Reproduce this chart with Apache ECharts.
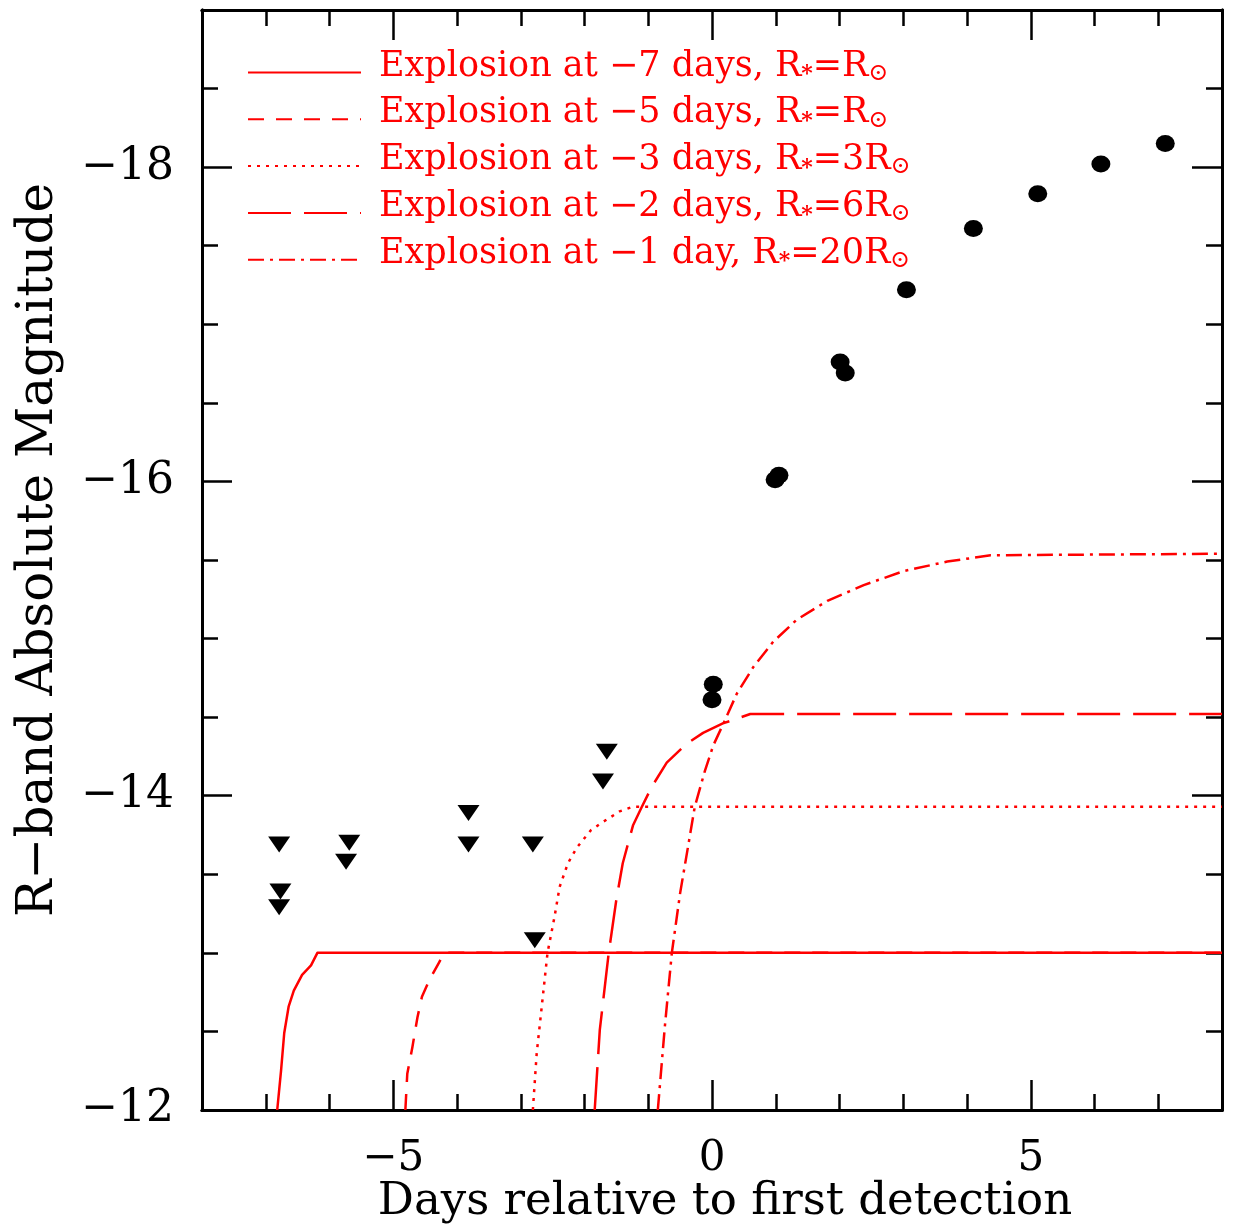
<!DOCTYPE html>
<html>
<head>
<meta charset="utf-8">
<script src="https://cdn.jsdelivr.net/npm/echarts@6/dist/echarts.min.js"></script>
<style>html,body{margin:0;padding:0;background:#fff}#chart{width:1234px;height:1227px}</style>
</head>
<body>
<div id="chart"></div>
<script>
// ---- tick values ----
const xMajorTicks = [-5, 0, 5];
const xMinorTicks = [-7, -6, -4, -3, -2, -1, 1, 2, 3, 4, 6, 7];
const yMajorTicks = [-18, -16, -14, -12];
const yMinorTicks = [-18.5, -17.5, -17, -16.5, -15.5, -15, -14.5, -13.5, -13, -12.5];

// ---- detections (filled circles) ----
const detDays = [0.02, 0.0, 0.99, 1.05, 2.01, 2.09, 3.05, 4.10, 5.11, 6.10, 7.11];
const detMag  = [-14.71, -14.61, -16.01, -16.04, -16.76, -16.69, -17.22, -17.61, -17.83, -18.02, -18.15];

// ---- upper limits (down triangles) ----
const limDays = [-6.79, -6.77, -6.79, -5.69, -5.74, -3.82, -3.82, -2.81, -2.78, -1.65, -1.71];
const limMag  = [-13.69, -13.39, -13.29, -13.70, -13.58, -13.89, -13.69, -13.69, -13.08, -14.28, -14.09];

// ---- model light curves ----
const modelNames = [
  'Explosion at \u22127 days, R*=R\u2299',
  'Explosion at \u22125 days, R*=R\u2299',
  'Explosion at \u22123 days, R*=3R\u2299',
  'Explosion at \u22122 days, R*=6R\u2299',
  'Explosion at \u22121 day, R*=20R\u2299'
];
const m7Days = [-6.82, -6.76, -6.71, -6.64, -6.56, -6.43, -6.29, -6.19, 8];
const m7Mag  = [-12.0, -12.25, -12.49, -12.66, -12.76, -12.86, -12.92, -13.0, -13.0];
const m5Days = [-4.81, -4.78, -4.70, -4.62, -4.55, -4.43, -4.28, -4.20, 8];
const m5Mag  = [-12.0, -12.23, -12.40, -12.59, -12.72, -12.83, -12.94, -13.0, -13.0];
const m3Days = [-2.81, -2.75, -2.67, -2.58, -2.47, -2.39, -2.26, -2.12, -1.90, -1.76, -1.45, -1.24, 8];
const m3Mag  = [-12.0, -12.36, -12.66, -13.0, -13.23, -13.42, -13.57, -13.67, -13.78, -13.82, -13.90, -13.93, -13.93];
const m2Days = [-1.84, -1.76, -1.62, -1.50, -1.40, -1.24, -1.10, -0.94, -0.71, -0.40, -0.14, 0.17, 0.39, 0.60, 8];
const m2Mag  = [-12.0, -12.51, -13.0, -13.34, -13.57, -13.81, -13.93, -14.06, -14.21, -14.33, -14.40, -14.46, -14.49, -14.52, -14.52];
const m1Days = [-0.85, -0.74, -0.63, -0.50, -0.37, -0.27, -0.11, 0.02, 0.18, 0.39, 0.65, 0.96, 1.33, 1.81, 2.38, 3.01, 3.69, 4.37, 8];
const m1Mag  = [-12.0, -12.53, -13.0, -13.38, -13.69, -13.93, -14.16, -14.32, -14.46, -14.65, -14.82, -14.98, -15.12, -15.24, -15.34, -15.43, -15.49, -15.53, -15.54];

const FONT = 'DejaVu Serif';
const RED = '#ff0000';
const zip = (a, b) => a.map((v, i) => [v, b[i]]);
const minus = v => String(v).replace('-', '\u2212');

const models = [
  {name: modelNames[0], d: m7Days, m: m7Mag, type: 'solid'},
  {name: modelNames[1], d: m5Days, m: m5Mag, type: [16, 12]},
  {name: modelNames[2], d: m3Days, m: m3Mag, type: [3, 6]},
  {name: modelNames[3], d: m2Days, m: m2Mag, type: [43, 13]},
  {name: modelNames[4], d: m1Days, m: m1Mag, type: [16, 6, 3, 6]}
];

function xAxisDef(pos, ticks, len, withLabel) {
  return {
    type: 'value', position: pos, min: -8, max: 8,
    axisLine: {show: true, onZero: false, lineStyle: {color: '#000', width: 3}},
    axisTick: {show: true, inside: true, length: len, customValues: ticks, lineStyle: {color: '#000', width: 2.5}},
    axisLabel: withLabel ? {show: true, customValues: xMajorTicks, formatter: minus, fontFamily: FONT, fontSize: 42, color: '#000', margin: 28} : {show: false},
    splitLine: {show: false}
  };
}
function yAxisDef(pos, ticks, len, withLabel) {
  return {
    type: 'value', position: pos, min: -19, max: -12, inverse: true,
    axisLine: {show: true, onZero: false, lineStyle: {color: '#000', width: 3}},
    axisTick: {show: true, inside: true, length: len, customValues: ticks, lineStyle: {color: '#000', width: 2.5}},
    axisLabel: withLabel ? {show: true, customValues: yMajorTicks, formatter: minus, fontFamily: FONT, fontSize: 44, color: '#000', margin: 28} : {show: false},
    splitLine: {show: false}
  };
}

const xAxes = [
  Object.assign(xAxisDef('bottom', xMajorTicks, 30, true), {
    name: 'Days relative to first detection', nameLocation: 'middle', nameGap: 70, nameMoveOverlap: false,
    nameTextStyle: {fontFamily: FONT, fontSize: 45, color: '#000', padding: [0, 0, 0, 26]}
  }),
  xAxisDef('bottom', xMinorTicks, 16, false),
  xAxisDef('top', xMajorTicks, 30, false),
  xAxisDef('top', xMinorTicks, 16, false)
];
const yAxes = [
  Object.assign(yAxisDef('left', yMajorTicks, 30, true), {
    name: 'R\u2212band Absolute Magnitude', nameLocation: 'middle', nameGap: 138, nameRotate: 90, nameMoveOverlap: false,
    nameTextStyle: {fontFamily: FONT, fontSize: 50, color: '#000', padding: [0, 0, 0, 20]}
  }),
  yAxisDef('left', yMinorTicks, 16, false),
  yAxisDef('right', yMajorTicks, 30, false),
  yAxisDef('right', yMinorTicks, 16, false)
];

const series = models.map(md => ({
  name: md.name, type: 'line', xAxisIndex: 0, yAxisIndex: 0,
  data: zip(md.d, md.m), showSymbol: false, symbol: 'none', clip: true,
  lineStyle: {color: RED, width: 2.5, type: md.type, join: 'round'},
  itemStyle: {color: RED}, z: 3
}));
series.push({
  name: 'detections', type: 'scatter', xAxisIndex: 0, yAxisIndex: 0,
  data: zip(detDays, detMag), symbol: 'circle', symbolSize: [19, 17],
  itemStyle: {color: '#000', opacity: 1}, z: 4
});
series.push({
  name: 'upper limits', type: 'scatter', xAxisIndex: 0, yAxisIndex: 0,
  data: zip(limDays, limMag), symbol: 'triangle', symbolRotate: 180, symbolSize: [22, 16],
  itemStyle: {color: '#000', opacity: 1}, z: 4
});

const chart = echarts.init(document.getElementById('chart'), null, {renderer: 'canvas'});
chart.setOption({
  animation: false,
  backgroundColor: '#fff',
  grid: {left: 202, right: 12, top: 10, bottom: 117, containLabel: false, outerBoundsMode: 'none'},
  xAxis: xAxes,
  yAxis: yAxes,
  legend: {
    data: modelNames, orient: 'vertical', left: 242, top: 44,
    itemWidth: 113, itemHeight: 14, itemGap: 10.3,
    itemStyle: {opacity: 0},
    formatter: n => n.replace(/R\*=(\d*)R\u2299/, 'R{s|*}=$1R{o|\u2299}'),
    textStyle: {
      fontFamily: FONT, fontSize: 35, color: RED, padding: [0, 0, 12, 13],
      rich: {
        s: {fontFamily: FONT, fontSize: 22, fontWeight: 'bold', color: RED, verticalAlign: 'bottom', padding: [14, 0, 0, 0]},
        o: {fontFamily: FONT, fontSize: 24, color: RED, verticalAlign: 'bottom', padding: [14, 0, 0, 0]}
      }
    }
  },
  series: series
});
</script>
</body>
</html>
